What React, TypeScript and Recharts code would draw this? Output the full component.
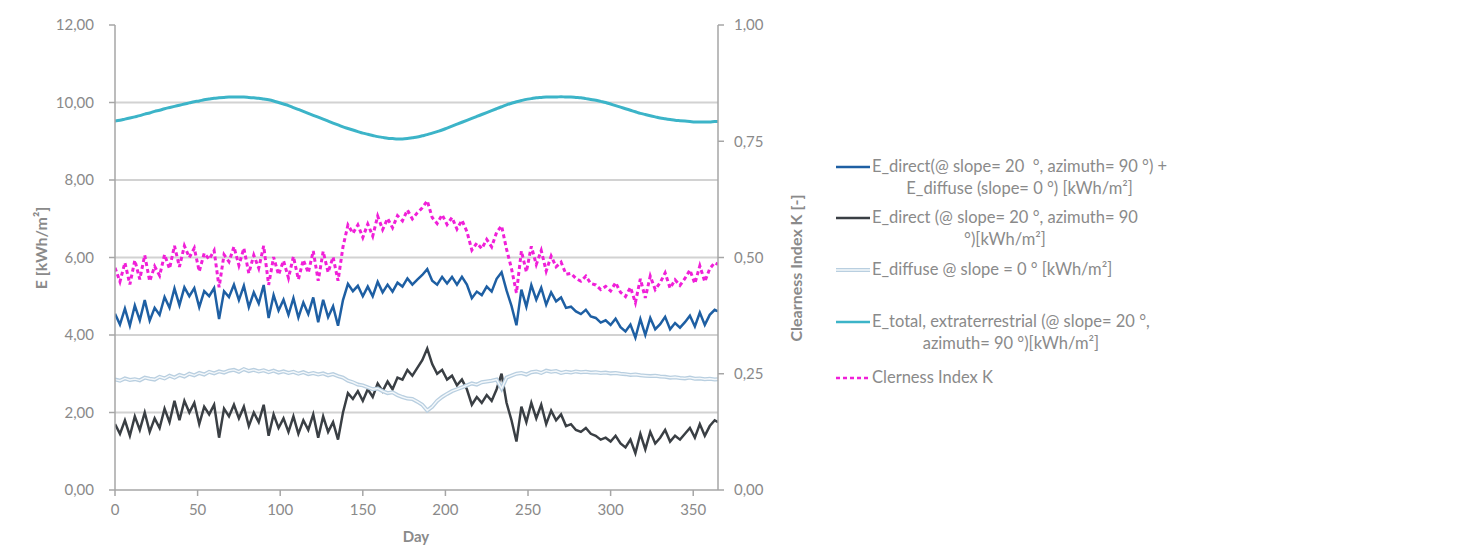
import React from 'react';
import { LineChart, Line, XAxis, YAxis, CartesianGrid } from 'recharts';

// Day of year (sampled every 3 days, plus the last day)
const DAYS: number[] = Array.from({ length: 122 }, (_, i) => i * 3).concat([365]);

// E_direct (@ slope 20°, azimuth 90°) + E_diffuse (slope 0°) [kWh/m²]
const GLOBAL_TILTED: number[] = [
  4.55, 4.27, 4.68, 4.24, 4.76, 4.38, 4.90, 4.37, 4.70, 4.52,
  4.98, 4.70, 5.20, 4.77, 5.23, 5.00, 5.21, 4.72, 5.13, 5.00,
  5.21, 4.41, 5.13, 4.98, 5.30, 4.90, 5.27, 4.72, 5.10, 4.81,
  5.29, 4.44, 5.03, 4.63, 4.91, 4.52, 4.95, 4.45, 4.84, 4.54,
  4.97, 4.33, 4.91, 4.46, 4.74, 4.24, 4.90, 5.32, 5.13, 5.27,
  5.00, 5.25, 5.00, 5.37, 5.10, 5.30, 5.12, 5.35, 5.25, 5.46,
  5.30, 5.43, 5.55, 5.70, 5.40, 5.30, 5.50, 5.33, 5.50, 5.30,
  5.50, 5.30, 4.95, 5.12, 5.03, 5.25, 5.12, 5.45, 5.62, 5.15,
  4.75, 4.25, 5.17, 4.73, 5.29, 4.91, 5.22, 4.78, 5.10, 4.87,
  4.97, 4.70, 4.73, 4.61, 4.54, 4.65, 4.48, 4.44, 4.32, 4.38,
  4.26, 4.42, 4.20, 4.09, 4.27, 3.93, 4.41, 4.00, 4.44, 4.15,
  4.28, 4.47, 4.15, 4.31, 4.19, 4.33, 4.50, 4.22, 4.58, 4.26,
  4.52, 4.65, 4.61,
];

// E_direct (@ slope 20°, azimuth 90°) [kWh/m²]
const DIRECT: number[] = [
  1.70, 1.45, 1.80, 1.40, 1.90, 1.55, 2.00, 1.50, 1.85, 1.60,
  2.10, 1.75, 2.30, 1.80, 2.30, 2.00, 2.25, 1.70, 2.15, 1.95,
  2.20, 1.35, 2.10, 1.90, 2.20, 1.85, 2.15, 1.65, 2.00, 1.75,
  2.20, 1.40, 1.95, 1.60, 1.85, 1.50, 1.90, 1.45, 1.80, 1.55,
  1.95, 1.35, 1.90, 1.50, 1.75, 1.30, 2.00, 2.50, 2.35, 2.55,
  2.30, 2.60, 2.40, 2.75, 2.55, 2.80, 2.60, 2.90, 2.85, 3.10,
  2.95, 3.15, 3.35, 3.65, 3.25, 3.00, 3.10, 2.85, 2.95, 2.70,
  2.85, 2.60, 2.20, 2.40, 2.25, 2.45, 2.30, 2.60, 3.00, 2.25,
  1.80, 1.25, 2.15, 1.75, 2.25, 1.85, 2.20, 1.70, 2.05, 1.80,
  1.95, 1.65, 1.70, 1.55, 1.50, 1.60, 1.45, 1.40, 1.30, 1.35,
  1.25, 1.40, 1.20, 1.10, 1.30, 0.95, 1.45, 1.05, 1.50, 1.20,
  1.35, 1.55, 1.25, 1.40, 1.30, 1.45, 1.60, 1.35, 1.70, 1.40,
  1.65, 1.80, 1.75,
];

// E_diffuse @ slope 0° [kWh/m²]
const DIFFUSE: number[] = [
  2.85, 2.82, 2.88, 2.84, 2.86, 2.83, 2.90, 2.87, 2.85, 2.92,
  2.88, 2.95, 2.90, 2.97, 2.93, 3.00, 2.96, 3.02, 2.98, 3.05,
  3.01, 3.06, 3.03, 3.08, 3.10, 3.05, 3.12, 3.07, 3.10, 3.06,
  3.09, 3.04, 3.08, 3.03, 3.06, 3.02, 3.05, 3.00, 3.04, 2.99,
  3.02, 2.98, 3.01, 2.96, 2.99, 2.94, 2.90, 2.82, 2.78, 2.72,
  2.70, 2.65, 2.60, 2.62, 2.55, 2.50, 2.52, 2.45, 2.40, 2.36,
  2.35, 2.28, 2.20, 2.05, 2.15, 2.30, 2.40, 2.48, 2.55, 2.60,
  2.65, 2.70, 2.75, 2.72, 2.78, 2.80, 2.82, 2.85, 2.62, 2.90,
  2.95, 3.00, 3.02, 2.98, 3.04, 3.06, 3.02, 3.08, 3.05, 3.07,
  3.02, 3.05, 3.03, 3.06, 3.04, 3.05, 3.03, 3.04, 3.02, 3.03,
  3.01, 3.02, 3.00, 2.99, 2.97, 2.98, 2.96, 2.95, 2.94, 2.95,
  2.93, 2.92, 2.90, 2.91, 2.89, 2.88, 2.90, 2.87, 2.88, 2.86,
  2.87, 2.85, 2.86,
];

// E_total, extraterrestrial (@ slope 20°, azimuth 90°) [kWh/m²]
const EXTRATERRESTRIAL: number[] = [
  9.52, 9.54, 9.57, 9.60, 9.63, 9.66, 9.70, 9.73, 9.77, 9.80,
  9.84, 9.87, 9.90, 9.93, 9.96, 9.99, 10.02, 10.04, 10.07, 10.09,
  10.11, 10.12, 10.13, 10.14, 10.14, 10.14, 10.14, 10.13, 10.12, 10.11,
  10.09, 10.07, 10.04, 10.00, 9.96, 9.92, 9.87, 9.82, 9.77, 9.72,
  9.67, 9.62, 9.57, 9.52, 9.47, 9.42, 9.37, 9.33, 9.29, 9.25,
  9.21, 9.18, 9.15, 9.12, 9.10, 9.08, 9.07, 9.06, 9.06, 9.07,
  9.09, 9.11, 9.14, 9.17, 9.21, 9.25, 9.29, 9.34, 9.39, 9.44,
  9.49, 9.54, 9.59, 9.64, 9.69, 9.74, 9.79, 9.84, 9.89, 9.94,
  9.98, 10.02, 10.05, 10.08, 10.10, 10.12, 10.13, 10.14, 10.14, 10.14,
  10.15, 10.14, 10.14, 10.13, 10.12, 10.10, 10.08, 10.06, 10.03, 10.00,
  9.96, 9.92, 9.88, 9.84, 9.80, 9.76, 9.72, 9.69, 9.66, 9.63,
  9.60, 9.58, 9.56, 9.54, 9.53, 9.52, 9.51, 9.50, 9.50, 9.50,
  9.50, 9.51, 9.51,
];

// Clearness index K [-]
const CLEARNESS: number[] = [
  0.478, 0.448, 0.489, 0.442, 0.494, 0.453, 0.505, 0.449, 0.481, 0.461,
  0.506, 0.476, 0.525, 0.480, 0.525, 0.500, 0.520, 0.470, 0.509, 0.496,
  0.515, 0.436, 0.506, 0.491, 0.523, 0.483, 0.520, 0.466, 0.505, 0.477,
  0.525, 0.441, 0.501, 0.463, 0.493, 0.456, 0.502, 0.453, 0.495, 0.467,
  0.514, 0.450, 0.513, 0.468, 0.501, 0.450, 0.523, 0.570, 0.552, 0.570,
  0.543, 0.572, 0.546, 0.589, 0.560, 0.584, 0.564, 0.590, 0.579, 0.602,
  0.583, 0.596, 0.607, 0.622, 0.586, 0.573, 0.592, 0.571, 0.586, 0.561,
  0.580, 0.556, 0.516, 0.531, 0.519, 0.539, 0.523, 0.554, 0.568, 0.518,
  0.476, 0.424, 0.514, 0.469, 0.524, 0.485, 0.515, 0.471, 0.503, 0.480,
  0.490, 0.464, 0.466, 0.455, 0.449, 0.460, 0.444, 0.441, 0.431, 0.438,
  0.428, 0.446, 0.425, 0.416, 0.436, 0.403, 0.454, 0.413, 0.460, 0.431,
  0.446, 0.467, 0.434, 0.452, 0.440, 0.455, 0.473, 0.444, 0.482, 0.448,
  0.476, 0.489, 0.485,
];

const X_TICKS = [0, 50, 100, 150, 200, 250, 300, 350];
const LEFT_TICKS = [0, 2, 4, 6, 8, 10, 12];
const RIGHT_TICKS = [0, 0.25, 0.5, 0.75, 1];
const GRID_VALUES = [2, 4, 6, 8, 10];

const LEGEND_ITEMS = [
  { key: 'global', color: '#1e5fa3', dashed: false, double: false, lines: ['E_direct(@ slope= 20  °, azimuth= 90 °) +', 'E_diffuse (slope= 0 °) [kWh/m²]'] },
  { key: 'direct', color: '#3a3f44', dashed: false, double: false, lines: ['E_direct (@ slope= 20 °, azimuth= 90', '°)[kWh/m²]'] },
  { key: 'diffuse', color: '#b9cfe0', dashed: false, double: true, lines: ['E_diffuse @ slope = 0 ° [kWh/m²]'] },
  { key: 'extra', color: '#3cb4c8', dashed: false, double: false, lines: ['E_total, extraterrestrial (@ slope= 20 °,', 'azimuth= 90 °)[kWh/m²]'] },
  { key: 'k', color: '#f020d8', dashed: true, double: false, lines: ['Clerness Index K'] },
];
const LEGEND_TOPS = [148, 199, 251, 303, 359];

const data = DAYS.map((d, i) => ({
  day: d,
  global: GLOBAL_TILTED[i],
  direct: DIRECT[i],
  diffuse: DIFFUSE[i],
  extra: EXTRATERRESTRIAL[i],
  k: CLEARNESS[i],
}));

const fmt = (v: number) => v.toFixed(2).replace('.', ',');
const TEXT = '#8a8a8a';
const AXIS = '#a6a6a6';
const FONT = 'Lato, "Open Sans", sans-serif';

export default function App() {
  return (
    <div style={{ position: 'relative', width: 1446, height: 540, fontFamily: FONT }}>
      <LineChart
        width={1446}
        height={532}
        data={data}
        margin={{ top: 17, right: 676, left: 40, bottom: 20 }}
        style={{ fontFamily: FONT }}
      >
        <CartesianGrid
          horizontal
          vertical={false}
          horizontalValues={GRID_VALUES}
          stroke="#d2d2d2"
          strokeWidth={2}
          yAxisId="left"
        />
        <XAxis
          dataKey="day"
          type="number"
          domain={[0, 365]}
          ticks={X_TICKS}
          allowDataOverflow
          stroke={AXIS}
          strokeWidth={1.5}
          tickSize={6}
          tickMargin={8}
          height={30}
          tick={{ fill: TEXT, fontSize: 15 }}
          tickLine={{ stroke: AXIS }}
        />
        <YAxis
          yAxisId="left"
          domain={[0, 12]}
          ticks={LEFT_TICKS}
          width={67}
          stroke={AXIS}
          strokeWidth={1.5}
          tickSize={6}
          tickMargin={15}
          tickFormatter={fmt}
          tick={{ fill: TEXT, fontSize: 15 }}
          tickLine={{ stroke: AXIS }}
        />
        <YAxis
          yAxisId="right"
          orientation="right"
          domain={[0, 1]}
          ticks={RIGHT_TICKS}
          width={60}
          stroke={AXIS}
          strokeWidth={1.5}
          tickSize={6}
          tickMargin={10}
          tickFormatter={fmt}
          tick={{ fill: TEXT, fontSize: 15 }}
          tickLine={{ stroke: AXIS }}
        />
        <Line yAxisId="left" type="linear" dataKey="global" stroke="#1e5fa3" strokeWidth={2.5} dot={false} isAnimationActive={false} />
        <Line yAxisId="left" type="linear" dataKey="direct" stroke="#3a3f44" strokeWidth={2.5} dot={false} isAnimationActive={false} />
        <Line yAxisId="left" type="linear" dataKey="diffuse" stroke="#b9cfe0" strokeWidth={4} dot={false} isAnimationActive={false} />
        <Line yAxisId="left" type="linear" dataKey="diffuse" stroke="#f4f8fb" strokeWidth={1.4} dot={false} isAnimationActive={false} />
        <Line yAxisId="left" type="monotone" dataKey="extra" stroke="#3cb4c8" strokeWidth={3} dot={false} isAnimationActive={false} />
        <Line yAxisId="right" type="linear" dataKey="k" stroke="#f020d8" strokeWidth={3} strokeDasharray="4 3" dot={false} isAnimationActive={false} />
      </LineChart>

      <div style={{ position: 'absolute', left: 32, top: 240, transform: 'translate(-50%, -50%) rotate(-90deg)', whiteSpace: 'nowrap', color: TEXT, fontSize: 16, fontWeight: 700 }}>
        E [kWh/m²]
      </div>
      <div style={{ position: 'absolute', left: 787, top: 260, transform: 'translate(-50%, -50%) rotate(-90deg)', whiteSpace: 'nowrap', color: TEXT, fontSize: 16, fontWeight: 700 }}>
        Clearness Index K [-]
      </div>
      <div style={{ position: 'absolute', left: 408, top: 528, transform: 'translate(-50%, -50%)', whiteSpace: 'nowrap', color: TEXT, fontSize: 15, fontWeight: 700 }}>
        Day
      </div>

      {LEGEND_ITEMS.map((item, idx) => (
        <div key={item.key} style={{ position: 'absolute', left: 827, top: LEGEND_TOPS[idx], display: 'flex', alignItems: 'flex-start' }}>
          <svg width={36} height={22} style={{ flex: 'none' }}>
            <line x1={1} x2={35} y1={11} y2={11} stroke={item.color} strokeWidth={item.double ? 4 : 2.5} strokeDasharray={item.dashed ? '4 3' : undefined} />
            {item.double && <line x1={1} x2={35} y1={11} y2={11} stroke="#f4f8fb" strokeWidth={1.4} />}
          </svg>
          <div style={{ marginLeft: 1, textAlign: 'center', color: TEXT, fontSize: 16.5, lineHeight: '21.5px', whiteSpace: 'pre' }}>
            {item.lines.map((l, j) => (
              <div key={j}>{l}</div>
            ))}
          </div>
        </div>
      ))}
    </div>
  );
}
